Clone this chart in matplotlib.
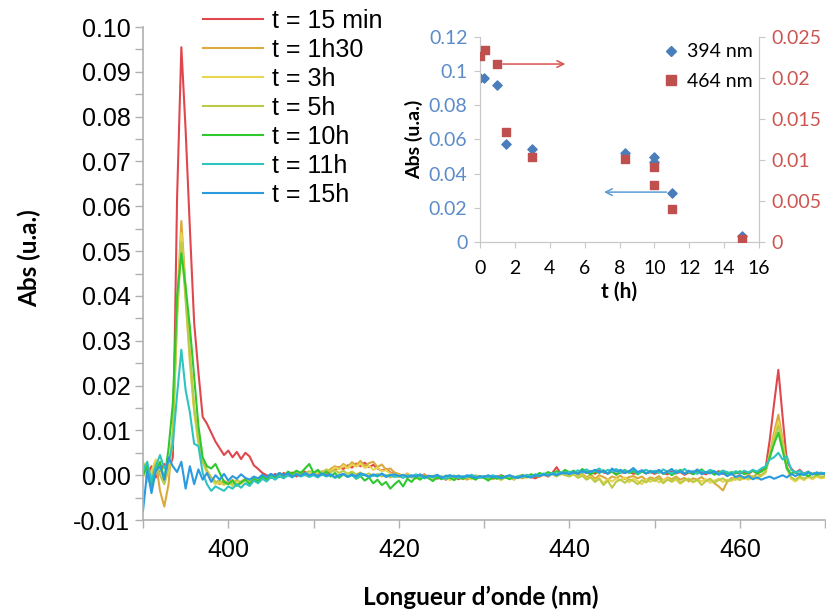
import numpy as np
import matplotlib
matplotlib.use('Agg')
import matplotlib.pyplot as plt
from matplotlib.ticker import MultipleLocator, FuncFormatter
from matplotlib.lines import Line2D

# longueurs d'onde : 390 -> 470 nm par pas de 0.5 nm
wl_start, wl_stop, wl_step = 390.0, 470.0, 0.5

# absorbances, en mAbs (1e-3 u.a.), 20 valeurs par tranche de 10 nm
abs_15min = """
1.5 -1.0 2.0 -0.5 1.0 2.5 1.0 4.0 62.0 95.5 77.0 55.0 34.0 23.0 13.0 11.5 9.5 7.5 6.0 4.5
5.5 4.0 5.2 3.6 5.0 4.2 2.2 1.4 0.5 0.0 -0.6 0.3 -0.4 0.5 -0.1 0.6 -0.3 0.4 0.8 0.2
0.3 -0.2 0.5 0.0 0.8 1.2 1.8 1.4 2.2 1.7 2.6 2.0 2.8 1.8 2.3 1.5 1.0 1.4 0.6 0.3
0.2 -0.3 0.1 -0.5 0.0 -0.4 0.2 -0.6 -0.2 -0.8 -0.3 -1.0 -0.5 -0.2 -0.9 -0.4 -0.7 -0.1 -0.5 -0.3
-0.6 -0.2 -0.8 -0.4 0.0 -0.5 -0.3 -0.8 -0.2 -0.6 -0.1 -0.4 -0.7 -0.2 0.1 -0.3 0.5 1.8 0.3 0.6
0.2 0.8 0.4 1.0 0.5 0.9 0.3 1.1 0.6 0.4 0.8 0.2 0.7 0.5 0.9 0.3 0.6 1.0 0.4 0.7
0.3 0.8 0.5 0.2 0.9 0.4 0.7 0.1 0.6 0.3 0.8 0.5 0.2 0.7 0.4 0.9 0.3 0.6 0.2 0.5
0.4 0.8 0.3 1.0 0.6 1.2 1.5 8.0 16.0 23.5 13.0 3.0 1.5 0.5 1.2 0.3 0.8 0.2 0.6 0.3
0.5
"""
abs_1h30 = """
0.5 2.5 -0.5 3.0 -3.5 -7.0 -2.0 10.0 38.0 56.7 42.0 27.0 15.0 8.0 3.5 1.0 -0.5 -1.5 -2.0 -1.2
-1.8 -1.0 -2.2 -1.4 -0.8 -1.6 -0.5 -1.0 -0.2 -0.7 0.2 -0.4 0.5 -0.2 0.3 0.0 0.6 -0.1 0.4 0.1
0.5 0.2 0.9 0.6 1.4 2.0 1.6 2.5 1.8 2.9 2.2 3.2 2.0 2.7 3.0 1.8 2.4 1.2 1.5 0.6
0.3 -0.2 0.4 -0.3 0.0 -0.6 0.1 -0.4 -0.8 -0.2 -0.6 -0.9 -0.3 -0.7 -0.1 -0.5 -1.0 -0.4 -0.6 -0.2
-0.7 -0.3 -0.9 -0.5 -0.1 -0.6 -0.4 -1.0 -0.3 -0.7 -0.2 -0.5 -0.1 -0.4 0.2 -0.2 0.4 0.0 0.5 0.2
0.1 0.6 -0.2 0.4 -0.5 0.2 -0.8 0.0 -0.4 -1.0 -0.3 -0.6 -0.1 -0.9 -0.4 -0.2 -0.7 -0.3 -1.1 -0.5
-0.8 -0.2 -1.2 -0.5 -0.9 -0.3 -1.0 -0.6 -1.4 -0.7 -1.0 -0.4 -1.3 -0.8 -1.8 -2.5 -3.4 -1.5 -0.6 -1.0
-0.3 -0.8 0.1 -0.5 0.3 0.0 0.8 5.0 9.5 13.5 8.0 2.0 -0.5 -1.2 -0.3 -0.9 -0.2 -0.7 0.0 -0.4
-0.2
"""
abs_3h = """
2.0 -1.5 1.0 3.5 1.5 -1.0 0.5 8.0 36.0 54.0 40.0 25.0 14.0 7.0 3.0 0.5 -1.0 -2.0 -1.5 -2.2
-1.5 -2.4 -1.2 -2.0 -1.0 -1.7 -0.6 -1.2 -0.4 -0.9 0.0 -0.5 0.3 -0.3 0.5 0.1 0.2 0.6 -0.1 0.3
0.2 0.7 0.4 1.2 0.9 1.7 1.3 2.2 1.5 2.4 1.9 2.6 1.6 2.1 1.2 1.7 0.9 1.1 0.4 0.2
0.0 -0.5 0.2 -0.3 -0.8 -0.2 -0.6 -0.1 -0.9 -0.4 -0.7 -0.2 -1.1 -0.5 -0.3 -0.8 -0.4 -0.9 -0.2 -0.6
-0.4 -0.9 -0.3 -0.6 -1.1 -0.5 -0.2 -0.8 -0.4 -0.1 -0.6 -0.3 0.1 -0.2 0.3 0.0 0.4 -0.1 0.2 0.5
0.0 0.3 -0.4 0.1 -0.8 -0.3 -1.2 -0.6 -1.8 -0.9 -1.4 -0.7 -1.1 -0.5 -1.6 -0.8 -1.3 -2.0 -1.0 -1.5
-0.9 -1.6 -1.1 -0.7 -1.5 -1.0 -1.9 -1.2 -0.8 -1.6 -1.1 -1.4 -0.9 -1.7 -1.2 -0.8 -1.5 -1.0 -1.3 -0.7
-1.1 -0.6 -1.0 -0.4 -0.8 -0.2 0.5 4.5 8.5 12.0 7.0 1.5 -0.8 -1.4 -0.6 -1.1 -0.4 -0.9 -0.3 -0.7
-0.5
"""
abs_5h = """
3.0 0.5 -1.0 2.5 0.0 -2.0 1.5 9.0 35.0 52.0 39.0 26.0 15.0 7.5 3.0 1.0 -0.5 -1.5 -1.2 -2.0
-1.4 -2.0 -1.0 -1.7 -0.8 -1.3 -0.5 -1.1 -0.3 -0.8 0.1 -0.4 0.4 -0.2 0.5 0.2 0.8 0.1 0.5 0.9
0.4 1.0 0.6 1.3 0.7 1.1 0.5 1.0 0.3 0.8 0.2 0.6 0.0 0.4 -0.2 0.3 -0.3 0.1 -0.5 -0.1
-0.4 0.0 -0.6 -0.2 -0.5 0.1 -0.7 -0.3 -0.1 -0.6 -0.2 -0.8 -0.4 -0.1 -0.5 -0.9 -0.3 -0.6 0.0 -0.4
-0.2 -0.7 -0.3 -0.5 -0.9 -0.4 -0.1 -0.6 -0.2 0.1 -0.4 0.2 -0.1 0.4 0.0 0.6 0.2 -0.3 0.3 0.0
-0.3 0.2 -0.6 -0.1 -1.0 -0.5 -1.5 -0.8 -2.2 -1.2 -2.8 -1.4 -1.0 -1.7 -0.9 -1.3 -2.0 -1.1 -1.6 -0.8
-1.3 -0.7 -1.8 -1.0 -1.4 -0.6 -1.7 -1.1 -0.8 -1.5 -1.0 -2.2 -1.3 -0.9 -1.6 -1.1 -0.7 -1.4 -0.9 -0.5
-1.0 -0.4 -0.8 -0.2 -0.6 0.0 0.8 4.5 8.0 11.0 6.5 1.5 -0.5 -1.0 -0.3 -0.8 -0.2 -0.6 0.1 -0.4
-0.3
"""
abs_10h = """
0.0 2.0 -2.5 1.0 3.0 -1.0 6.0 16.0 40.0 49.5 42.0 33.0 22.0 11.0 4.0 2.0 1.5 2.5 0.5 -1.5
-2.0 -1.2 -2.4 -1.6 -1.0 -2.0 -0.8 -1.4 -0.3 -1.0 0.2 -0.5 0.4 -0.2 0.8 0.3 1.0 0.5 1.5 2.5
0.5 1.2 0.0 0.8 -0.3 0.5 -0.6 0.2 -0.4 0.3 -0.8 -0.2 -1.2 -0.5 -1.8 -1.0 -2.2 -1.5 -3.0 -2.0
-1.2 -2.5 -0.8 -1.5 -0.4 -1.0 -0.2 -0.7 -1.3 -0.4 -0.9 -0.1 -0.6 -1.1 -0.3 -0.8 -0.2 -0.5 -1.0 -0.3
-0.6 -1.2 -0.4 -0.8 -0.1 -0.5 -0.9 -0.3 -0.6 0.0 -0.4 0.2 -0.2 0.5 0.1 0.7 0.3 0.9 0.4 1.2
0.6 1.0 0.3 1.4 0.8 0.2 0.9 0.5 1.1 0.4 0.8 0.1 0.7 1.2 0.5 0.9 0.2 0.8 0.4 1.0
0.5 1.1 0.3 0.8 0.0 0.6 1.2 0.4 0.9 0.2 0.7 1.3 0.5 0.8 0.1 0.6 1.0 0.3 0.7 0.4
0.9 0.2 0.6 1.0 0.4 0.8 1.5 4.0 7.0 9.5 5.5 1.5 0.3 0.8 0.0 0.5 -0.2 0.4 0.1 0.6
0.2
"""
abs_11h = """
1.0 3.0 -1.5 2.0 4.5 1.5 3.0 7.0 18.0 28.0 19.0 14.0 7.0 6.5 0.5 -2.0 -3.5 -2.5 -3.0 -3.5
-2.5 -3.0 -2.0 -2.8 -1.8 -2.4 -1.2 -1.8 -0.8 -1.4 -0.4 -1.0 -0.2 -0.7 0.0 -0.5 0.3 -0.3 0.1 -0.4
0.0 -0.5 0.2 -0.3 0.1 -0.6 -0.2 0.3 -0.4 0.0 -0.7 -0.1 0.2 -0.5 0.0 -0.3 0.4 -0.2 0.1 -0.4
-0.1 -0.6 0.0 -0.4 0.2 -0.3 -0.7 -0.2 -0.5 0.0 -0.4 -0.8 -0.3 -0.1 -0.6 -0.2 -0.5 0.1 -0.3 -0.6
-0.2 -0.5 0.0 -0.4 -0.7 -0.3 -0.1 -0.6 -0.2 -0.4 0.1 -0.3 0.2 -0.1 0.4 0.0 0.5 0.2 0.7 0.3
0.8 0.4 1.1 0.6 1.3 0.7 1.0 1.5 0.6 1.2 0.8 1.4 0.5 1.0 0.7 1.3 0.4 0.9 1.2 0.6
1.0 0.5 1.3 0.8 0.4 1.1 0.7 1.4 0.6 0.9 0.3 1.0 0.6 1.2 0.8 0.4 1.0 0.7 0.3 0.9
0.5 1.0 0.6 1.2 0.8 1.5 2.0 3.5 4.0 5.0 3.5 4.2 1.2 0.6 1.0 0.3 0.8 0.2 0.6 0.4
0.5
"""
abs_15h = """
-8.0 1.0 -4.0 1.0 2.0 -1.0 4.0 2.0 0.7 3.0 -3.0 2.0 -2.0 1.3 -1.0 0.5 -1.5 0.0 -1.0 0.3
-1.2 -0.2 -0.8 0.2 -0.6 -1.0 -0.3 -0.7 0.1 -0.4 0.3 -0.2 0.5 0.0 0.4 -0.3 0.2 -0.1 0.5 0.0
0.3 -0.2 0.4 -0.1 0.2 -0.4 0.0 0.3 -0.3 0.1 -0.2 0.4 0.0 -0.3 0.2 -0.1 0.3 -0.4 0.0 0.2
-0.2 0.1 -0.4 0.0 -0.3 0.2 -0.5 -0.1 -0.3 0.1 -0.6 -0.2 0.0 -0.4 -0.1 -0.5 0.0 -0.3 -0.6 -0.2
-0.4 0.0 -0.5 -0.2 -0.7 -0.3 0.0 -0.4 -0.6 -0.1 -0.3 -0.5 0.0 -0.2 0.2 -0.1 0.3 0.0 0.4 0.6
0.2 0.7 0.3 1.0 0.5 0.8 1.2 0.6 1.0 0.3 1.5 0.8 1.2 0.5 0.9 1.6 0.7 1.1 0.4 0.9
0.6 1.2 0.4 0.8 1.4 0.5 0.9 0.3 1.0 0.6 1.3 0.2 0.7 0.4 0.9 0.1 0.5 -0.2 0.3 -0.4
0.0 -0.6 -0.2 -0.9 -0.5 -1.0 -0.6 -0.3 -0.8 -0.4 0.0 -0.5 0.3 -0.2 0.4 0.0 0.6 0.2 0.5 0.3
0.4
"""

labels = ['t = 15 min', 't = 1h30', 't = 3h', 't = 5h', 't = 10h', 't = 11h', 't = 15h']
colors = ['#e0474c', '#dba93c', '#e8d552', '#bccb47', '#2fc92f', '#2ec4c0', '#2b9be0']
series = [abs_15min, abs_1h30, abs_3h, abs_5h, abs_10h, abs_11h, abs_15h]

# encart : cinetique des deux pics
t_394 = [0, 0.25, 1, 1.5, 3, 8.33, 10, 10, 11, 15]
a_394 = [0.0959, 0.0959, 0.092, 0.0572, 0.0544, 0.0523, 0.0499, 0.047, 0.0284, 0.0037]
t_464 = [0, 0.27, 1, 1.5, 3, 8.33, 10, 10, 11, 15]
a_464 = [0.0227, 0.02345, 0.0217, 0.01346, 0.01036, 0.01007, 0.00918, 0.00693, 0.00408, 0.0004]

wl = np.arange(wl_start, wl_stop + wl_step / 2, wl_step)

fig = plt.figure(figsize=(8.26, 6.1), dpi=100)
ax = fig.add_axes([0.1731, 0.1475, 0.826, 0.8082])

for lab, col, s in zip(labels, colors, series):
    y = np.array(s.split(), dtype=float) / 1000.0
    ax.plot(wl, y, color=col, lw=1.5, label=lab)

ax.set_xlim(390, 470)
ax.set_ylim(-0.01, 0.10)
ax.xaxis.set_major_locator(MultipleLocator(20))
ax.xaxis.set_minor_locator(MultipleLocator(10))
ax.yaxis.set_major_locator(MultipleLocator(0.01))
ax.yaxis.set_minor_locator(MultipleLocator(0.005))
ax.yaxis.set_major_formatter(FuncFormatter(lambda v, p: '%.2f' % v))
for sp in ['top', 'right']:
    ax.spines[sp].set_visible(False)
for sp in ['left', 'bottom']:
    ax.spines[sp].set_color('#b0b0b0')
    ax.spines[sp].set_linewidth(1.2)
ax.tick_params(which='both', direction='out', length=6, width=1, color='#b0b0b0')
ax.tick_params(axis='y', pad=3)
ax.tick_params(axis='x', pad=7)
for t in ax.get_xticklabels() + ax.get_yticklabels():
    t.set_fontfamily('Liberation Sans')
    t.set_fontsize(18)

fig.text(0.036, 0.577, 'Abs (u.a.)', rotation=90, ha='center', va='center',
         family='Lato', weight='bold', fontsize=17.5)
fig.text(0.582, 0.021, 'Longueur d\u2019onde (nm)', ha='center', va='center',
         family='Lato', weight='bold', fontsize=17.5)

leg = ax.legend(loc='upper left', bbox_to_anchor=(0.2458, 0.986), bbox_transform=fig.transFigure,
                frameon=False, prop={'family': 'Liberation Sans', 'size': 18},
                handlelength=2.4, handletextpad=0.36, labelspacing=0.2,
                borderpad=0, borderaxespad=0)

# encart
axi = fig.add_axes([0.5811, 0.6033, 0.3378, 0.3361])
axi2 = axi.twinx()
blue_c = '#4a7ebb'
red_c = '#c0504d'
axi.scatter(t_394, a_394, marker='D', s=22, color=blue_c, zorder=3)
axi2.scatter(t_464, a_464, marker='s', s=40, color=red_c, zorder=3)
axi.set_xlim(0, 16)
axi.set_ylim(0, 0.12)
axi2.set_ylim(0, 0.025)
axi.xaxis.set_major_locator(MultipleLocator(2))
axi.yaxis.set_major_locator(MultipleLocator(0.02))
axi2.yaxis.set_major_locator(MultipleLocator(0.005))
axi.yaxis.set_major_formatter(FuncFormatter(lambda v, p: '0' if abs(v) < 1e-9 else ('%g' % round(v, 3))))
axi2.yaxis.set_major_formatter(FuncFormatter(lambda v, p: '0' if abs(v) < 1e-9 else ('%g' % round(v, 4))))
for a in (axi, axi2):
    a.patch.set_visible(False)
    a.spines['top'].set_visible(False)
    for sp in ['left', 'right', 'bottom']:
        a.spines[sp].set_color('#c8c8c8')
    a.tick_params(which='both', direction='out', length=4, color='#c8c8c8')
axi.tick_params(axis='y', labelcolor='#5b8bc9', pad=5)
axi2.tick_params(axis='y', labelcolor='#cc5550', pad=5)
axi.tick_params(axis='x', pad=9)
for t in axi.get_xticklabels() + axi.get_yticklabels() + axi2.get_yticklabels():
    t.set_fontfamily('Lato')
    t.set_fontsize(14)

axi.set_xlabel('t (h)', family='Lato', weight='bold', fontsize=15, labelpad=3)
axi.set_ylabel('Abs (u.a.)', family='Lato', weight='bold', fontsize=14, labelpad=4)

axi2.annotate('', xy=(5.05, 0.0217), xytext=(1.15, 0.0217),
              arrowprops=dict(arrowstyle='->', color='#d9534f', lw=1.1, mutation_scale=12))
axi.annotate('', xy=(6.95, 0.0292), xytext=(10.85, 0.0292),
             arrowprops=dict(arrowstyle='->', color='#5b9bd5', lw=1.1, mutation_scale=12))

h1 = Line2D([], [], ls='none', marker='D', ms=5, color=blue_c)
h2 = Line2D([], [], ls='none', marker='s', ms=6.5, color=red_c)
axi2.legend([h1, h2], ['394 nm', '464 nm'], loc='upper left', bbox_to_anchor=(0.803, 0.929),
            bbox_transform=fig.transFigure, frameon=False, prop={'family': 'Lato', 'size': 14},
            handlelength=0.8, handletextpad=0.4, labelspacing=0.65, borderpad=0, borderaxespad=0)

plt.savefig('out.png', dpi=100)
